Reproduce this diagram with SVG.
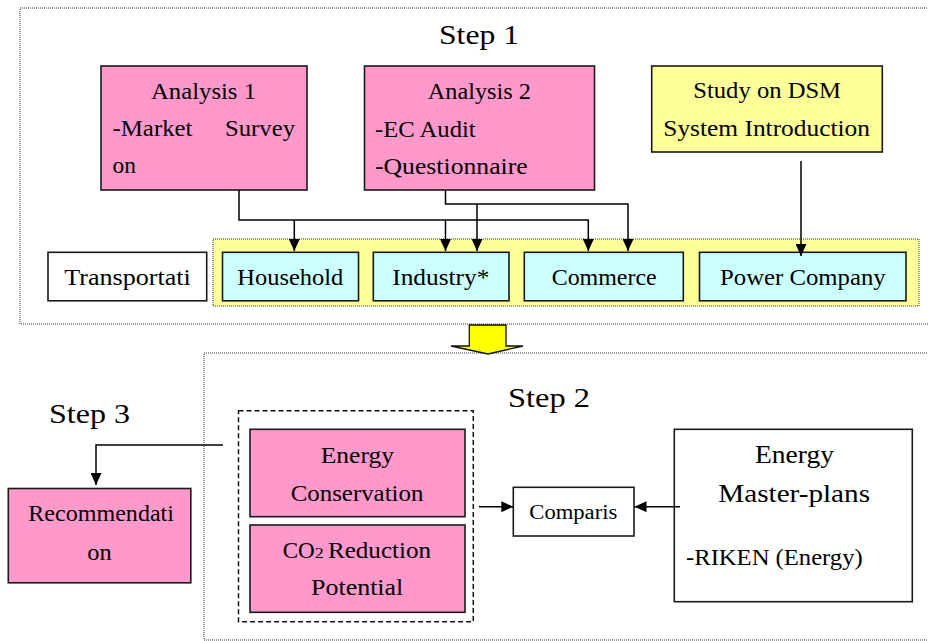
<svg xmlns="http://www.w3.org/2000/svg" width="928" height="641" viewBox="0 0 928 641">
<style>
  text { font-family: "Liberation Serif", "Times New Roman", serif; fill: #000; }
  .t { font-size: 23px; }
  .step { font-size: 28px; }
  .box { stroke: #1a1a1a; stroke-width: 1.6; }
  .pink { fill: #FF99CC; }
  .yel { fill: #FFFF99; }
  .cyan { fill: #CCFFFF; }
  .white { fill: #FFFFFF; }
  .dotted { fill: none; stroke: #333; stroke-width: 1; stroke-dasharray: 1 1; }
  .conn { fill: none; stroke: #000; stroke-width: 1.5; }
</style>
<defs>
  <marker id="ah" markerUnits="userSpaceOnUse" viewBox="0 0 12 11" refX="12" refY="5.5" markerWidth="12" markerHeight="11" orient="auto">
    <path d="M0,0 L12,5.5 L0,11 z" fill="#000"/>
  </marker>
</defs>
<rect width="928" height="641" fill="#fff"/>

<g id="step1-frame">
  <rect class="dotted" x="20" y="8" width="930" height="316"/>
  <text class="step" x="439" y="44" textLength="80" lengthAdjust="spacingAndGlyphs">Step 1</text>
</g>
<g id="step2-frame">
  <rect class="dotted" x="204" y="353" width="740" height="287"/>
  <text class="step" x="508" y="407" textLength="82" lengthAdjust="spacingAndGlyphs">Step 2</text>
</g>
<g id="step3-label">
  <text class="step" x="49" y="423" textLength="81" lengthAdjust="spacingAndGlyphs">Step 3</text>
</g>

<g id="sector-container">
  <rect x="213" y="239" width="706" height="67" fill="#FFFF99" stroke="#333" stroke-width="1" stroke-dasharray="1 1"/>
</g>

<g id="analysis1">
  <rect class="box pink" x="101" y="66" width="206" height="124"/>
  <text class="t" x="151" y="99" textLength="105" lengthAdjust="spacingAndGlyphs">Analysis 1</text>
  <text class="t" y="136"><tspan x="112.5" textLength="80" lengthAdjust="spacingAndGlyphs">-Market</tspan><tspan x="225" textLength="70" lengthAdjust="spacingAndGlyphs">Survey</tspan></text>
  <text class="t" x="112.5" y="173" textLength="23.5" lengthAdjust="spacingAndGlyphs">on</text>
</g>

<g id="analysis2">
  <rect class="box pink" x="364.5" y="66" width="230" height="124"/>
  <text class="t" x="427.7" y="99" textLength="103.3" lengthAdjust="spacingAndGlyphs">Analysis 2</text>
  <text class="t" x="375" y="136.5" textLength="100.7" lengthAdjust="spacingAndGlyphs">-EC Audit</text>
  <text class="t" x="375" y="174" textLength="152.7" lengthAdjust="spacingAndGlyphs">-Questionnaire</text>
</g>

<g id="dsm-study">
  <rect class="box yel" x="651.7" y="66" width="230.6" height="86"/>
  <text class="t" x="693.3" y="98" textLength="147.7" lengthAdjust="spacingAndGlyphs">Study on DSM</text>
  <text class="t" x="663.3" y="136" textLength="206.7" lengthAdjust="spacingAndGlyphs">System Introduction</text>
</g>

<g id="transportation">
  <rect class="box white" x="48" y="252.3" width="158.7" height="48.5"/>
  <text class="t" x="64.3" y="285" textLength="126.4" lengthAdjust="spacingAndGlyphs">Transportati</text>
</g>
<g id="household">
  <rect class="box cyan" x="222.5" y="252.3" width="136" height="48.5"/>
  <text class="t" x="237.3" y="285" textLength="106" lengthAdjust="spacingAndGlyphs">Household</text>
</g>
<g id="industry">
  <rect class="box cyan" x="373.3" y="252.3" width="135.7" height="48.5"/>
  <text class="t" x="392.3" y="285" textLength="97" lengthAdjust="spacingAndGlyphs">Industry*</text>
</g>
<g id="commerce">
  <rect class="box cyan" x="524.3" y="252.3" width="159" height="48.5"/>
  <text class="t" x="551.7" y="285" textLength="105" lengthAdjust="spacingAndGlyphs">Commerce</text>
</g>
<g id="power-company">
  <rect class="box cyan" x="699.5" y="252.3" width="206.5" height="48.5"/>
  <text class="t" x="720" y="285" textLength="165.7" lengthAdjust="spacingAndGlyphs">Power Company</text>
</g>

<g id="step-arrow">
  <polygon points="469.3,325 506,325 506,346 523,346 488,354 451,346 469.3,346" fill="#FFFF00" stroke="#111" stroke-width="1.3" stroke-linejoin="miter"/>
</g>

<g id="results-group">
  <rect x="238.5" y="410.7" width="234.8" height="211" fill="none" stroke="#111" stroke-width="1.5" stroke-dasharray="5 3"/>
</g>
<g id="energy-conservation">
  <rect class="box pink" x="250" y="429.3" width="215" height="87.4"/>
  <text class="t" x="320.7" y="463.3" textLength="73.3" lengthAdjust="spacingAndGlyphs">Energy</text>
  <text class="t" x="290.7" y="500.7" textLength="132.7" lengthAdjust="spacingAndGlyphs">Conservation</text>
</g>
<g id="co2-reduction">
  <rect class="box pink" x="250" y="525" width="215" height="87.3"/>
  <text class="t" y="558.3"><tspan x="282.7" textLength="32" lengthAdjust="spacingAndGlyphs">CO</tspan><tspan font-size="15" textLength="9" lengthAdjust="spacingAndGlyphs">2</tspan><tspan x="328" textLength="103" lengthAdjust="spacingAndGlyphs">Reduction</tspan></text>
  <text class="t" x="311" y="595" textLength="92.3" lengthAdjust="spacingAndGlyphs">Potential</text>
</g>
<g id="comparison">
  <rect class="box white" x="513.3" y="487.3" width="120.7" height="48.7"/>
  <text x="529.3" y="519.3" font-size="20" textLength="88" lengthAdjust="spacingAndGlyphs">Comparis</text>
</g>
<g id="master-plans">
  <rect class="box white" x="674.3" y="429.3" width="238" height="172.4"/>
  <text x="755" y="462.7" font-size="25" textLength="79" lengthAdjust="spacingAndGlyphs">Energy</text>
  <text x="718.3" y="501.7" font-size="25" textLength="151.7" lengthAdjust="spacingAndGlyphs">Master-plans</text>
  <text class="t" x="686" y="565" textLength="176.7" lengthAdjust="spacingAndGlyphs">-RIKEN (Energy)</text>
</g>
<g id="recommendation">
  <rect class="box pink" x="8.3" y="488.5" width="182.5" height="94.3"/>
  <text class="t" x="28.3" y="521" textLength="145.7" lengthAdjust="spacingAndGlyphs">Recommendati</text>
  <text class="t" x="87.3" y="560" textLength="24.4" lengthAdjust="spacingAndGlyphs">on</text>
</g>

<g id="connectors">
  <path class="conn" d="M239,190 V220 H588.3 V251" marker-end="url(#ah)"/>
  <path class="conn" d="M294.3,220 V251" marker-end="url(#ah)"/>
  <path class="conn" d="M445.5,220 V251" marker-end="url(#ah)"/>
  <path class="conn" d="M445.5,190 V204 H628 V251" marker-end="url(#ah)"/>
  <path class="conn" d="M477,204 V251" marker-end="url(#ah)"/>
  <path class="conn" d="M801,161 V256" marker-end="url(#ah)"/>
  <path class="conn" d="M223,445 H96 V485" marker-end="url(#ah)"/>
  <path class="conn" d="M479,506.7 H513.3" marker-end="url(#ah)"/>
  <path class="conn" d="M680,506.7 H634.5" marker-end="url(#ah)"/>
</g>
</svg>
